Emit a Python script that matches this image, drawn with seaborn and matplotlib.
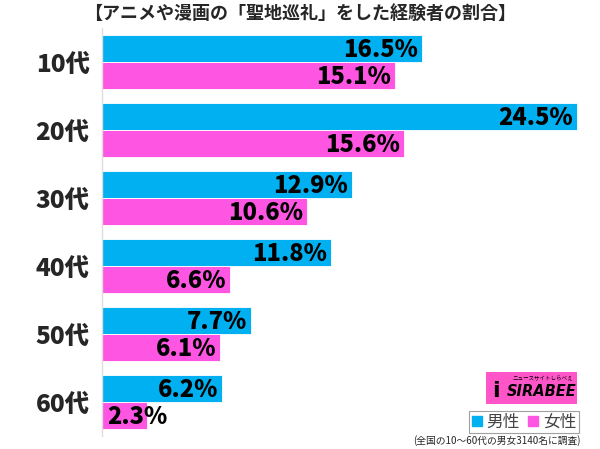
import matplotlib
matplotlib.use("Agg")
import matplotlib.pyplot as plt
import matplotlib.patches as mpatches
import pandas as pd
import seaborn as sns

ages = ["10代", "20代", "30代", "40代", "50代", "60代"]
male = [16.5, 24.5, 12.9, 11.8, 7.7, 6.2]
female = [15.1, 15.6, 10.6, 6.6, 6.1, 2.3]
genders = ["男性", "女性"]
colors = ["#00B0F0", "#FF55E3"]

sns.set_style("white")
plt.rcParams['font.family'] = ['Noto Sans CJK JP', 'DejaVu Sans']

df = pd.DataFrame({
    "age": ages * 2,
    "value": male + female,
    "gender": [genders[0]] * len(ages) + [genders[1]] * len(ages),
})

fig = plt.figure(figsize=(6, 4.49), dpi=100)
ax = fig.add_axes([0.17, 0.029, 0.825, 0.909])
sns.barplot(data=df, y="age", x="value", hue="gender", orient="h",
            palette=colors, width=0.8, ax=ax, legend=False,
            edgecolor="white", linewidth=0.6, saturation=1)

# value labels: right-aligned at bar end, or from the bar start if too short
for p in ax.patches:
    w = p.get_width()
    if w <= 0:
        continue
    yc = p.get_y() + p.get_height() / 2 + 0.02
    if w < 4:
        ax.text(0.25, yc, f"{w:.1f}%", ha="left", va="center", fontsize=17,
                fontweight="heavy", color="black")
    else:
        ax.text(w - 0.2, yc, f"{w:.1f}%", ha="right", va="center", fontsize=17,
                fontweight="heavy", color="black")

ax.set_xlim(0, 25.55)
ax.set_ylim(5.5, -0.5)
ax.set_xlabel("")
ax.set_ylabel("")
ax.set_xticks([])
ax.tick_params(axis="y", length=0, pad=9)
for lbl in ax.get_yticklabels():
    lbl.set_fontsize(17.5)
    lbl.set_fontweight("heavy")
for s in ["top", "right", "bottom"]:
    ax.spines[s].set_visible(False)
ax.spines["left"].set_color("#dddddd")
ax.spines["left"].set_linewidth(1)

fig.text(0.5, 0.97, "【アニメや漫画の「聖地巡礼」をした経験者の割合】",
         ha="center", va="center", fontsize=13, fontweight="bold")

# logo box
fig.patches.append(mpatches.Rectangle((0.81, 0.1), 0.152, 0.072,
                                      transform=fig.transFigure,
                                      facecolor="#FF55C8", edgecolor="none"))
fig.text(0.902, 0.127, "SIRABEE", ha="center", va="center", fontsize=10.5,
         fontweight="heavy", fontstyle="italic", color="black",
         family=["DejaVu Sans"])
fig.text(0.826, 0.13, "i", ha="center", va="center", fontsize=16,
         fontweight="heavy", color="black", family=["DejaVu Sans"])
fig.text(0.905, 0.158, "ニュースサイトしらべぇ", ha="center", va="center",
         fontsize=4, color="black")

# legend
handles = [mpatches.Patch(color=c, label=g) for c, g in zip(colors, genders)]
leg = fig.legend(handles=handles, loc="lower right", bbox_to_anchor=(0.965, 0.035),
                 ncol=2, fontsize=12, frameon=True, fancybox=False,
                 handlelength=0.6, handleheight=0.6, handletextpad=0.3,
                 columnspacing=0.5, borderpad=0.15, borderaxespad=0)
leg.get_frame().set_edgecolor("#888888")
leg.get_frame().set_linewidth(0.8)
for t in leg.get_texts():
    t.set_color("#444444")

fig.text(0.968, 0.018, "(全国の10〜60代の男女3140名に調査)", ha="right",
         va="center", fontsize=7)

fig.savefig("out.png", dpi=100)
